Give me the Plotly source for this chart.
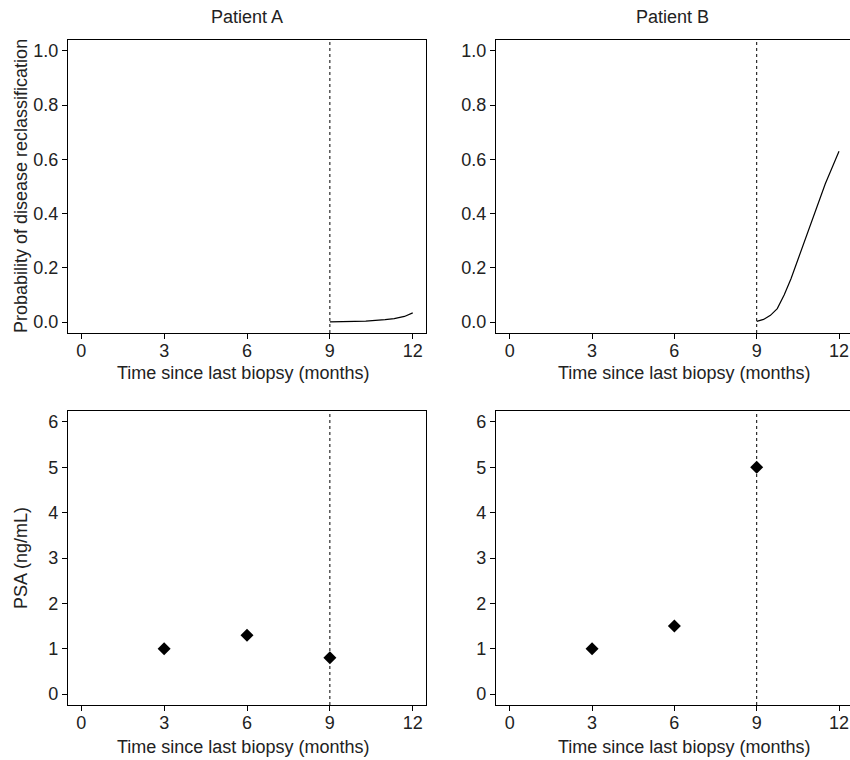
import plotly.graph_objects as go

# ---- data ----
patients = ["Patient A", "Patient B"]

prob_time_a = [9.0, 9.85, 9.9, 10.3, 10.6, 11.0, 11.33, 11.7, 12.0]
prob_a = [0.001, 0.001, 0.003, 0.004, 0.005, 0.009, 0.013, 0.021, 0.034]

prob_time_b = [9.0, 9.25, 9.5, 9.75, 10.0, 10.25, 10.5, 10.75, 11.0, 11.25, 11.5, 11.75, 12.0]
prob_b = [0.003, 0.01, 0.025, 0.05, 0.10, 0.16, 0.23, 0.30, 0.37, 0.44, 0.51, 0.57, 0.63]

psa_time_a = [3, 6, 9]
psa_a = [1.0, 1.3, 0.8]
psa_time_b = [3, 6, 9]
psa_b = [1.0, 1.5, 5.0]

last_visit = 9
x_ticks = [0, 3, 6, 9, 12]
prob_ticks = [0.0, 0.2, 0.4, 0.6, 0.8, 1.0]
prob_tick_labels = ["0.0", "0.2", "0.4", "0.6", "0.8", "1.0"]
psa_ticks = [0, 1, 2, 3, 4, 5, 6]
psa_tick_labels = ["0", "1", "2", "3", "4", "5", "6"]

x_title = "Time since last biopsy (months)"
prob_title = "Probability of disease reclassification"
psa_title = "PSA (ng/mL)"

# ---- figure ----
W, H = 850, 760
FONT = "Arial, 'Liberation Sans', Helvetica, sans-serif"
TXT = "#222222"
FS = 18


def px(xp):
    return xp / W


def py(yp):
    return 1 - yp / H


fig = go.Figure()

line_style = dict(color="black", width=1.2)
marker_style = dict(symbol="diamond", size=10, color="black")

fig.add_trace(go.Scatter(x=prob_time_a, y=prob_a, mode="lines", line=line_style,
                         xaxis="x", yaxis="y", showlegend=False))
fig.add_trace(go.Scatter(x=prob_time_b, y=prob_b, mode="lines", line=line_style,
                         xaxis="x2", yaxis="y2", showlegend=False))
fig.add_trace(go.Scatter(x=psa_time_a, y=psa_a, mode="markers", marker=marker_style,
                         xaxis="x3", yaxis="y3", showlegend=False))
fig.add_trace(go.Scatter(x=psa_time_b, y=psa_b, mode="markers", marker=marker_style,
                         xaxis="x4", yaxis="y4", showlegend=False))

left_dom = [px(68), px(426)]
right_dom = [px(496), 1.0]
top_dom = [py(333), py(40)]
bot_dom = [py(705), py(411)]


def xax(domain, anchor, rng):
    return dict(domain=domain, anchor=anchor, range=rng, tickvals=x_ticks,
                showline=True, linecolor="black", linewidth=1.2, mirror=True,
                ticks="outside", ticklen=5, tickcolor="black", tickwidth=1,
                ticklabelstandoff=-4,
                showgrid=False, zeroline=False,
                tickfont=dict(family=FONT, size=FS, color=TXT))


def yax(domain, anchor, rng, tv, tt, mirror):
    return dict(domain=domain, anchor=anchor, range=rng, tickvals=tv, ticktext=tt,
                showline=True, linecolor="black", linewidth=1.2, mirror=mirror,
                ticks="outside", ticklen=5, tickcolor="black", tickwidth=1,
                showgrid=False, zeroline=False,
                tickfont=dict(family=FONT, size=FS, color=TXT))


left_xr = [-0.48, 12.48]
right_xr = [-0.5, 12.4]
prob_r = [-0.04, 1.04]
psa_r = [-0.24, 6.24]

fig.update_layout(
    width=W, height=H,
    margin=dict(l=0, r=0, t=0, b=0),
    paper_bgcolor="white", plot_bgcolor="white",
    xaxis=xax(left_dom, "y", left_xr),
    yaxis=yax(top_dom, "x", prob_r, prob_ticks, prob_tick_labels, True),
    xaxis2=xax(right_dom, "y2", right_xr),
    yaxis2=yax(top_dom, "x2", prob_r, prob_ticks, prob_tick_labels, False),
    xaxis3=xax(left_dom, "y3", left_xr),
    yaxis3=yax(bot_dom, "x3", psa_r, psa_ticks, psa_tick_labels, True),
    xaxis4=xax(right_dom, "y4", right_xr),
    yaxis4=yax(bot_dom, "x4", psa_r, psa_ticks, psa_tick_labels, False),
)

# vertical dotted lines at the last visit
for xr, yr in [("x", "y domain"), ("x2", "y2 domain"), ("x3", "y3 domain"), ("x4", "y4 domain")]:
    fig.add_shape(type="line", xref=xr, yref=yr, x0=last_visit, x1=last_visit, y0=0, y1=1,
                  line=dict(color="black", width=1, dash="dot"))

ann_font = dict(family=FONT, size=FS, color=TXT)


def ann(text, xp, yp, angle=0):
    fig.add_annotation(text=text, x=px(xp), y=py(yp), xref="paper", yref="paper",
                       showarrow=False, font=ann_font, textangle=angle,
                       xanchor="center", yanchor="middle")


ann(patients[0], 247, 17)
ann(patients[1], 672, 17)
ann(x_title, 243, 373)
ann(x_title, 684, 373)
ann(x_title, 243, 747)
ann(x_title, 684, 747)
ann(prob_title, 21, 186, -90)
ann(psa_title, 21, 558, -90)

fig.write_html(
    "out.html",
    config={"displayModeBar": False},
    post_script="document.body.style.margin='0';"
                "document.body.style.overflow='hidden';"
                "document.documentElement.style.overflow='hidden';",
)
